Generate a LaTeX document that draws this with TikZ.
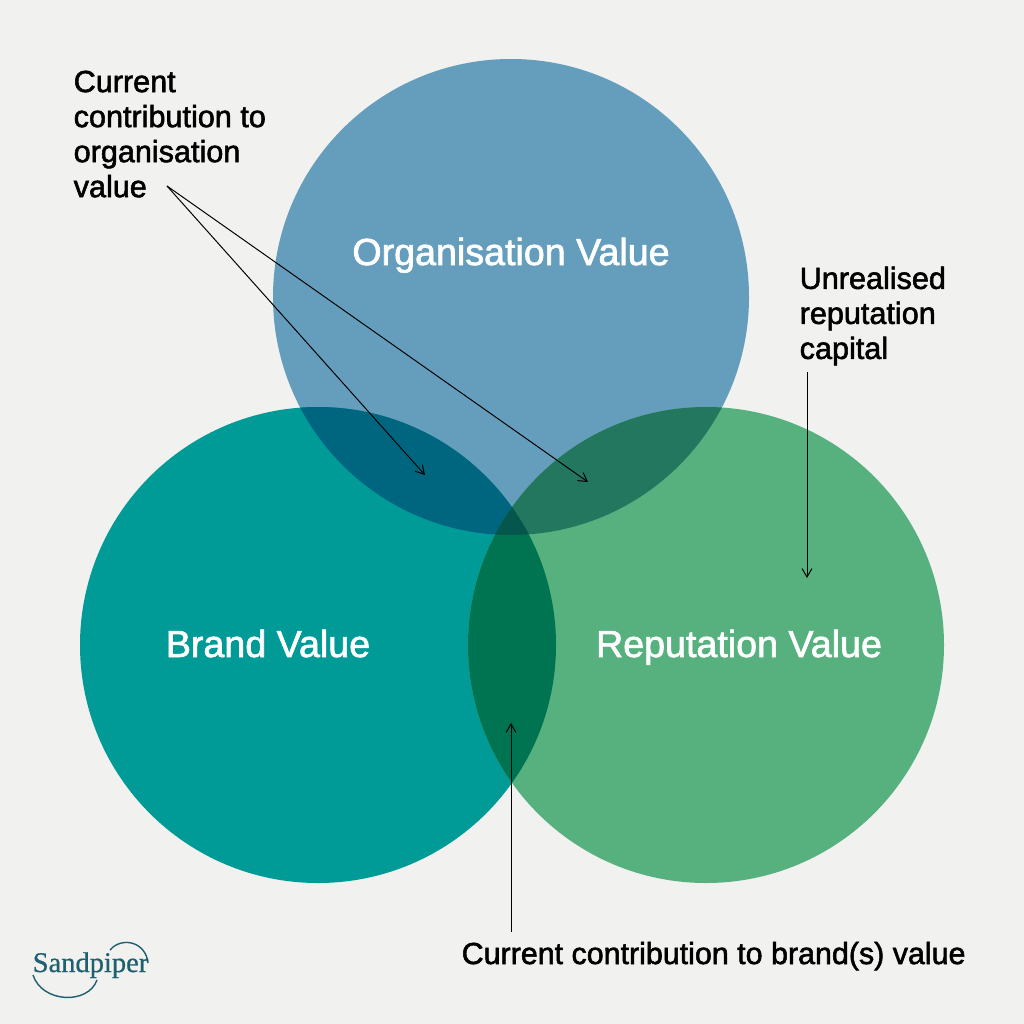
\documentclass[tikz,border=0pt]{standalone}
\usepackage{fontspec}
\usepackage{xcolor}
\setmainfont[FakeBold=1.8]{Liberation Sans}
\newfontfamily\logofont[FakeBold=0.6]{Liberation Serif}
\usetikzlibrary{arrows.meta}
\definecolor{paper}{HTML}{F1F1EF}
\definecolor{orgblue}{HTML}{659EBD}
\definecolor{brandteal}{HTML}{009B97}
\definecolor{repgreen}{HTML}{56B17F}
\definecolor{orgbrand}{HTML}{006680}
\definecolor{orgrep}{HTML}{24775F}
\definecolor{brandrep}{HTML}{007350}
\definecolor{allthree}{HTML}{05564C}
\definecolor{logoink}{HTML}{1F6070}
\begin{document}
\begin{tikzpicture}[x=0.01cm,y=-0.01cm,>={Straight Barb[length=2.4pt,width=2.8pt]},
  heading/.style={text=white,anchor=base,inner sep=0pt,font=\fontsize{10.7}{12}\selectfont},
  callout/.style={text=black,align=left,inner sep=0pt,font=\fontsize{8.7}{9.96}\selectfont},
  pointer/.style={draw=black,line width=0.28pt}]
  \fill[paper] (0,0) rectangle (1024,1024);
  \useasboundingbox (0,0) rectangle (1024,1024);
  \fill[orgblue] (511,297) circle (238);
  \fill[brandteal] (318,645) circle (238);
  \fill[repgreen] (706,645) circle (238);
  \begin{scope}
    \clip (511,297) circle (238);
    \fill[orgbrand] (318,645) circle (238);
    \fill[orgrep] (706,645) circle (238);
  \end{scope}
  \begin{scope}
    \clip (318,645) circle (238);
    \fill[brandrep] (706,645) circle (238);
  \end{scope}
  \begin{scope}
    \clip (318,645) circle (238);
    \clip (706,645) circle (238);
    \fill[allthree] (511,297) circle (238);
  \end{scope}
  \node[heading] (orgvalue) at (511,265) {Organisation Value};
  \node[heading] (brandvalue) at (268,657) {Brand Value};
  \node[heading] (repvalue) at (739,657) {Reputation Value};
  \node[callout,anchor=north west] (orglabel) at (73,70) {Current\\contribution to\\organisation\\value};
  \node[callout,anchor=north west] (unrealised) at (799,266) {Unrealised\\reputation\\capital};
  \node[callout,anchor=base west,font=\fontsize{8.65}{9.96}\selectfont] (brandlabel) at (461,964) {Current contribution to brand(s) value};
  \coordinate (fork) at (167,186);
  \coordinate (orgbrandtip) at (425,475);
  \coordinate (orgreptip) at (588,482);
  \coordinate (unrealisedstart) at (807,372);
  \coordinate (unrealisedtip) at (807,578);
  \coordinate (brandstart) at (511,932);
  \coordinate (brandtip) at (511,723);
  \draw[->,pointer] (fork) -- (orgbrandtip);
  \draw[->,pointer] (fork) -- (orgreptip);
  \draw[->,pointer] (unrealisedstart) -- (unrealisedtip);
  \draw[->,pointer] (brandstart) -- (brandtip);
  \draw[draw=logoink,line width=0.4pt] (33,975) .. controls (42,1003) and (88,1005) .. (97,980);
  \draw[draw=logoink,line width=0.4pt] (110,950) .. controls (122,936) and (146,942) .. (148,963);
  \node[anchor=base,inner sep=0pt,text=logoink,font=\logofont\fontsize{8.1}{10}\selectfont] (logo) at (90.5,972) {Sandpiper};
\end{tikzpicture}
\end{document}
